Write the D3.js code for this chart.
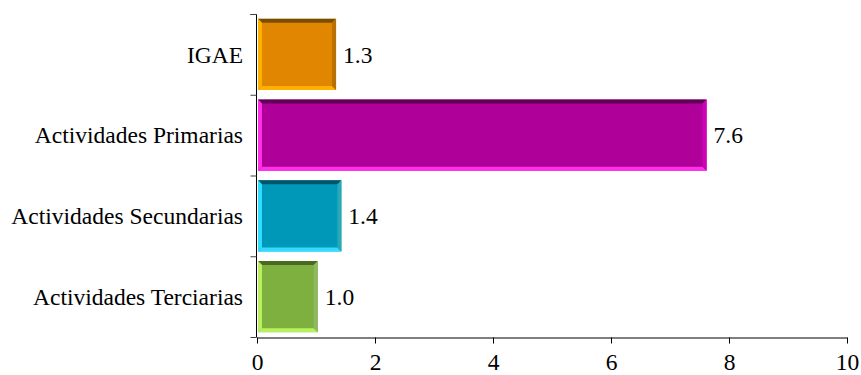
<!DOCTYPE html>
<html><head><meta charset="utf-8">
<script src="https://cdn.jsdelivr.net/npm/d3@7"></script>
<style>body{margin:0;background:#fff}svg{display:block}text{font-family:"Liberation Serif","Times New Roman",serif;fill:#000}</style>
</head><body><svg id="c" width="861" height="375"></svg>
<script>
const categories = ["IGAE","Actividades Primarias","Actividades Secundarias","Actividades Terciarias"];
const values = [1.34, 7.62, 1.43, 1.03];
const xTicks = [0,2,4,6,8,10];
const fills = ["#E08600","#B0009A","#0098B8","#7EB040"];
const lights = ["#FFB000","#FF30E8","#30DCFF","#B8F060"];
const darks = ["#7A4E00","#600055","#005568","#4A6A20"];
const mids = ["#B87000","#D000B8","#2AA8B8","#90B860"];

const FS = "23.5px";
const svg = d3.select("#c");
const m = {l:257, r:14, t:14, b:38};
const W = 861, H = 375;
const x = d3.scaleLinear().domain([0,10]).range([m.l, W-m.r]);
const y = d3.scaleBand().domain(categories).range([m.t, H-m.b]).paddingInner(0.12).paddingOuter(0.06);

// bars with bevel
const g = svg.append("g");
categories.forEach((c,i)=>{
  const x0 = x(0)+1, x1 = x(values[i]), y0 = y(c), y1 = y(c)+y.bandwidth();
  const b = 4;
  const bg = g.append("g");
  bg.append("rect").attr("x",x0).attr("y",y0).attr("width",x1-x0).attr("height",y1-y0).attr("fill",fills[i]);
  bg.append("polygon").attr("points",[[x0,y0],[x1,y0],[x1-b,y0+b],[x0+b,y0+b]].join(" ")).attr("fill",darks[i]);
  bg.append("polygon").attr("points",[[x0,y0],[x0+b,y0+b],[x0+b,y1-b],[x0,y1]].join(" ")).attr("fill",lights[i]);
  bg.append("polygon").attr("points",[[x0,y1],[x0+b,y1-b],[x1-b,y1-b],[x1,y1]].join(" ")).attr("fill",lights[i]);
  bg.append("polygon").attr("points",[[x1,y0],[x1,y1],[x1-b,y1-b],[x1-b,y0+b]].join(" ")).attr("fill",mids[i]);
  g.append("text").attr("x",x1+7).attr("y",y0+y.bandwidth()/2).attr("dy","0.35em")
    .style("font-size",FS).text(d3.format(".1f")(values[i]));
});

// y axis
const yAxis = d3.axisLeft(d3.scaleLinear().domain([0,categories.length]).range([m.t,H-m.b]))
  .tickValues(d3.range(categories.length+1)).tickSize(6).tickFormat("");
const ya = svg.append("g").attr("transform",`translate(${m.l-0.5},0)`).call(yAxis);
ya.select(".domain").attr("stroke","#000").attr("d",`M-6,${m.t+0.5}H0V${H-m.b+0.5}`);
ya.selectAll(".tick line").attr("stroke","#444");
svg.append("g").selectAll("text").data(categories).join("text")
  .attr("x",m.l-14).attr("y",d=>y(d)+y.bandwidth()/2).attr("dy","0.35em")
  .attr("text-anchor","end").style("font-size",FS).text(d=>d);

// x axis
const xa = svg.append("g").attr("transform",`translate(0,${H-m.b+0.5})`)
  .call(d3.axisBottom(x).tickValues(xTicks).tickSize(6).tickSizeOuter(0).tickPadding(10));
xa.select(".domain").attr("stroke","#000");
xa.selectAll(".tick line").attr("stroke","#000");
xa.selectAll(".tick text").style("font-size",FS).attr("font-family","Liberation Serif");
</script></body></html>
